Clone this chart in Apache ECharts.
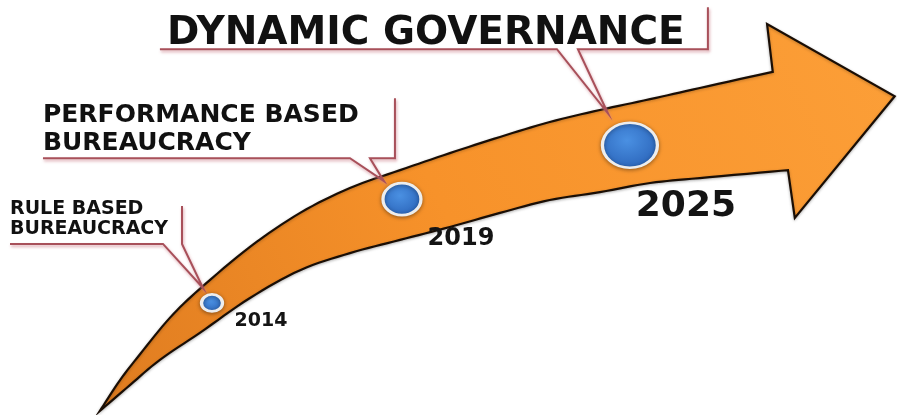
<!DOCTYPE html>
<html>
<head>
<meta charset="utf-8">
<script src="https://cdn.jsdelivr.net/npm/echarts@6/dist/echarts.min.js"></script>
<style>
html,body{margin:0;padding:0;background:#ffffff;}
#chart{width:897px;height:415px;}
</style>
</head>
<body>
<div id="chart"></div>
<script>
// ---- data ----
const years = [2014, 2019, 2025];
const levels = [27, 52, 65];
const yearLabels = ['2014', '2019', '2025'];
const stageLabels = ['RULE BASED\nBUREAUCRACY', 'PERFORMANCE BASED\nBUREAUCRACY', 'DYNAMIC GOVERNANCE'];

// ---- arrow shape (decorative timeline band, in axis units [year, level]) ----
const arrowUpperEdge = [
  [2011.05, 1.0], [2011.58, 8.4], [2012.11, 14.7], [2012.89, 23.4], [2013.68, 30.4],
  [2015.00, 40.5], [2016.32, 48.7], [2017.63, 54.7], [2018.95, 59.0], [2020.26, 63.1],
  [2021.58, 67.0], [2022.89, 70.6], [2024.21, 73.5], [2025.53, 76.1], [2026.84, 78.8],
  [2028.76, 82.7]
];
const arrowHeadPts = [[2028.61, 94.2], [2031.97, 76.8], [2029.34, 47.5]];
const arrowLowerEdge = [
  [2011.05, 1.0], [2011.84, 7.2], [2012.63, 13.3], [2013.68, 19.8], [2015.00, 28.2],
  [2016.32, 34.9], [2017.63, 39.0], [2018.95, 42.2], [2020.26, 45.3], [2021.58, 48.7],
  [2022.89, 51.8], [2024.21, 53.7], [2025.53, 55.9], [2026.84, 57.1], [2029.16, 59.0]
];

// ---- style / layout ----
const dotSizes = [[21, 17], [38, 32], [55, 45]];
const yearFont = [19, 24, 36];
const yearOffset = [[49, 18], [59, 40], [56, 61]];
const calloutLayout = [
  { text: [-202, -104], font: 19, lh: 20,
    line: [[-202, -59], [-49, -59], [-9, -15], [-30, -59], [-30, -97]] },
  { text: [-359, -98], font: 25, lh: 28,
    line: [[-359, -41], [-52, -41], [-18, -18], [-32, -41], [-7, -41], [-7, -101]] },
  { text: [-463, -131], font: 39, lh: 40,
    line: [[-470, -96], [-73, -96], [-22, -32], [-52, -96], [78, -96], [78, -138]] }
];

function catmull(pts, seg) {
  const out = [];
  for (let i = 0; i < pts.length - 1; i++) {
    const p0 = pts[i - 1] || pts[i], p1 = pts[i], p2 = pts[i + 1], p3 = pts[i + 2] || pts[i + 1];
    for (let t = 0; t < seg; t++) {
      const s = t / seg, s2 = s * s, s3 = s2 * s;
      const f = k => 0.5 * ((2 * p1[k]) + (-p0[k] + p2[k]) * s +
        (2 * p0[k] - 5 * p1[k] + 4 * p2[k] - p3[k]) * s2 +
        (-p0[k] + 3 * p1[k] - 3 * p2[k] + p3[k]) * s3);
      out.push([f(0), f(1)]);
    }
  }
  out.push(pts[pts.length - 1]);
  return out;
}

const chart = echarts.init(document.getElementById('chart'), null, { renderer: 'canvas' });

const option = {
  backgroundColor: '#ffffff',
  animation: false,
  grid: { left: 0, right: 0, top: 0, bottom: 0 },
  xAxis: { type: 'value', min: 2008.42, max: 2032.03, show: false },
  yAxis: { type: 'value', min: 0, max: 100, show: false },
  series: [
    {
      type: 'custom',
      name: 'arrow',
      silent: true,
      z: 1,
      data: [[2020, 50]],
      renderItem: function (params, api) {
        const up = catmull(arrowUpperEdge.map(p => api.coord(p)), 8);
        const lo = catmull(arrowLowerEdge.map(p => api.coord(p)), 8).reverse();
        const head = arrowHeadPts.map(p => api.coord(p));
        const pts = up.concat(head, lo);
        return {
          type: 'polygon',
          shape: { points: pts },
          style: {
            fill: new echarts.graphic.LinearGradient(1, 0, 0, 1, [
              { offset: 0, color: '#FC9F38' },
              { offset: 0.55, color: '#F7922A' },
              { offset: 1, color: '#DF7C20' }
            ]),
            stroke: '#1a0e05',
            lineWidth: 2.2,
            lineJoin: 'miter',
            shadowColor: 'rgba(0,0,0,0.25)',
            shadowBlur: 3,
            shadowOffsetY: 1
          }
        };
      }
    },
    {
      type: 'custom',
      name: 'callouts',
      silent: true,
      z: 2,
      data: years.map((y, i) => [y, levels[i]]),
      renderItem: function (params, api) {
        const i = params.dataIndex;
        const c = api.coord([api.value(0), api.value(1)]);
        const L = calloutLayout[i];
        return {
          type: 'group',
          children: [
            {
              type: 'polyline',
              shape: { points: L.line.map(p => [c[0] + p[0], c[1] + p[1]]) },
              style: {
                stroke: '#A8505A', lineWidth: 2, fill: null,
                shadowColor: 'rgba(205,130,140,0.7)', shadowBlur: 3, shadowOffsetX: 1, shadowOffsetY: 2
              }
            },
            {
              type: 'text',
              x: c[0] + L.text[0],
              y: c[1] + L.text[1],
              style: {
                text: stageLabels[i],
                fontFamily: 'DejaVu Sans',
                fontWeight: 'bold',
                fontSize: L.font,
                lineHeight: L.lh,
                fill: '#111111',
                align: 'left',
                verticalAlign: 'top'
              }
            }
          ]
        };
      }
    },
    {
      type: 'scatter',
      name: 'milestones',
      z: 3,
      symbol: 'circle',
      data: years.map((y, i) => ({
        value: [y, levels[i]],
        symbolSize: dotSizes[i],
        label: { fontSize: yearFont[i], offset: yearOffset[i] }
      })),
      itemStyle: {
        opacity: 1,
        color: {
          type: 'radial', x: 0.45, y: 0.4, r: 0.65,
          colorStops: [{ offset: 0, color: '#4A90E2' }, { offset: 1, color: '#2A63B8' }]
        },
        borderColor: '#EDEDED',
        borderWidth: 3,
        shadowColor: 'rgba(0,0,0,0.35)',
        shadowBlur: 4,
        shadowOffsetY: 1
      },
      label: {
        show: true,
        position: 'inside',
        formatter: p => yearLabels[p.dataIndex],
        fontFamily: 'DejaVu Sans',
        fontWeight: 'bold',
        color: '#141414',
        align: 'center',
        verticalAlign: 'middle'
      }
    }
  ]
};

chart.setOption(option);
</script>
</body>
</html>
